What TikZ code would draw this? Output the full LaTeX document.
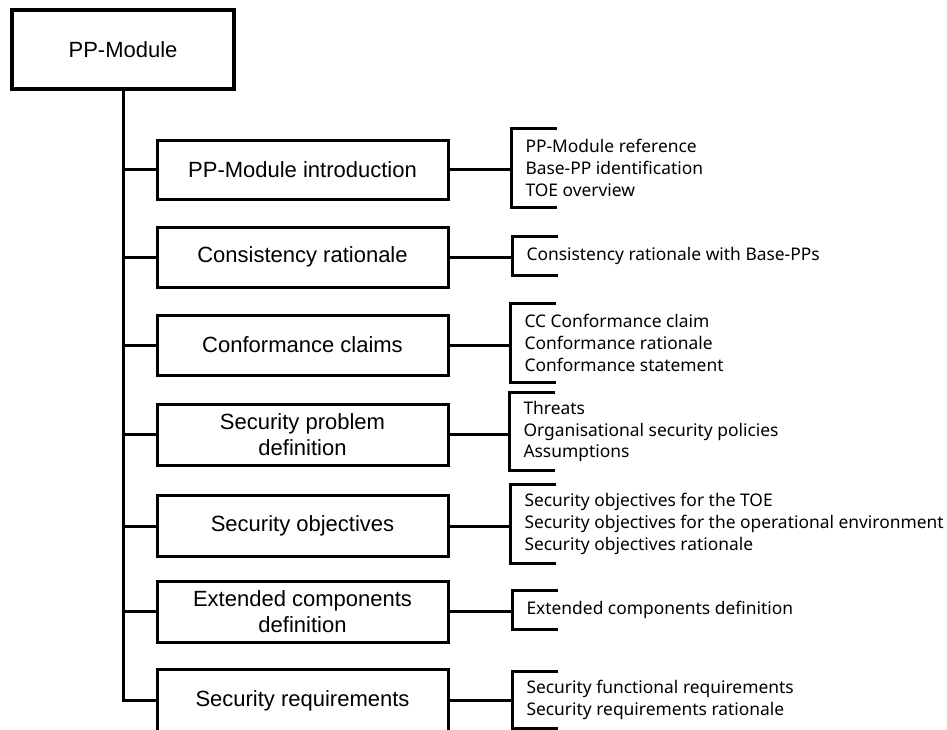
\documentclass[tikz,border=0pt]{standalone}
\usepackage{fontspec}
\setmainfont{Liberation Sans}
\newfontfamily\itemfont{Noto Sans}
\begin{document}
\begin{tikzpicture}[x=1pt,y=-1pt,
  line width=3pt,
  secbox/.style={draw, line width=3pt, minimum width=291pt, inner sep=0pt, align=center,
    font=\fontsize{22}{26}\selectfont},
  itemlist/.style={anchor=west, align=left, inner xsep=13pt, inner ysep=0pt,
    font=\itemfont\fontsize{17.4}{21.7}\selectfont},
]
\useasboundingbox (0,0) rectangle (947,729);
\clip (0,0) rectangle (947,729);

\node[draw, line width=3.5pt, minimum width=222pt, minimum height=79pt, inner sep=0pt,
  font=\fontsize{22}{26}\selectfont] (top) at (123,49.5) {PP-Module};

\node[secbox, minimum height=59pt] (b1) at (302.5,169.5) {PP-Module introduction};
\node[secbox, minimum height=60pt] (b2) at (302.5,257) {Consistency rationale};
\node[secbox, minimum height=60pt] (b3) at (302.5,345) {Conformance claims};
\node[secbox, minimum height=61pt] (b4) at (302.5,434.5) {Security problem\\definition};
\node[secbox, minimum height=61pt] (b5) at (302.5,526) {Security objectives};
\node[secbox, minimum height=61pt] (b6) at (302.5,611.5) {Extended components\\definition};
\node[secbox, minimum height=63pt] (b7) at (302.5,700.5) {Security requirements};

\node[itemlist, minimum height=76pt] (t1) at (511,168) {PP-Module reference\\Base-PP identification\\TOE overview};
\node[itemlist, minimum height=36pt] (t2) at (512,256) {Consistency rationale with Base-PPs};
\node[itemlist, minimum height=76pt] (t3) at (510,343) {CC Conformance claim\\Conformance rationale\\Conformance statement};
\node[itemlist, minimum height=75pt] (t4) at (509,431.5) {Threats\\Organisational security policies\\Assumptions};
\node[itemlist, minimum height=76pt] (t5) at (510,524) {Security objectives for the TOE\\Security objectives for the operational environment\\Security objectives rationale};
\node[itemlist, minimum height=36pt] (t6) at (512,610) {Extended components definition};
\node[itemlist, minimum height=54pt] (t7) at (512,700) {Security functional requirements\\Security requirements rationale};

% trunk and branches
\draw (top.south) |- (b7.west);
\foreach \b in {b1,b2,b3,b4,b5,b6}{
  \draw (top.south |- \b.west) -- (\b.west);
}

% connectors and brackets
\foreach \i in {1,...,7}{
  \draw (b\i.east) -- (b\i.east -| t\i.west);
  \draw ([xshift=46pt]t\i.north west) -- (t\i.north west) -- (t\i.south west) -- ([xshift=46pt]t\i.south west);
}
\end{tikzpicture}
\end{document}
